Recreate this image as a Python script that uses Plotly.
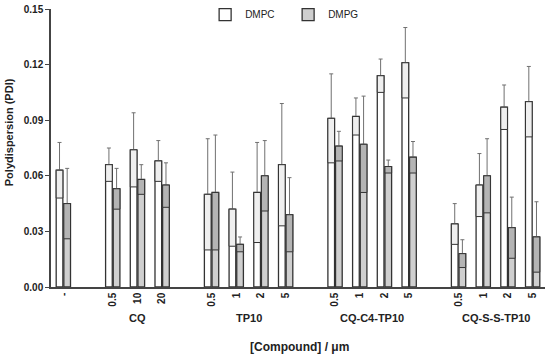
import plotly.graph_objects as go

# ---- data ----
tick_labels = ["-", "", "0.5", "10", "20", "", "0.5", "1", "2", "5", "",
               "0.5", "1", "2", "5", "", "0.5", "1", "2", "5"]
positions = [0, 2, 3, 4, 6, 7, 8, 9, 11, 12, 13, 14, 16, 17, 18, 19]
dmpc_vals = [0.063, 0.066, 0.074, 0.068, 0.050, 0.042, 0.051, 0.066,
             0.091, 0.092, 0.114, 0.121, 0.034, 0.055, 0.097, 0.100]
dmpc_err = [0.015, 0.009, 0.020, 0.011, 0.030, 0.020, 0.027, 0.033,
            0.024, 0.010, 0.009, 0.019, 0.011, 0.017, 0.012, 0.019]
dmpg_vals = [0.045, 0.053, 0.058, 0.055, 0.051, 0.023, 0.060, 0.039,
             0.076, 0.077, 0.065, 0.070, 0.018, 0.060, 0.032, 0.027]
dmpg_err = [0.019, 0.011, 0.008, 0.012, 0.031, 0.004, 0.019, 0.020,
            0.008, 0.026, 0.0035, 0.0085, 0.0075, 0.020, 0.0165, 0.019]
groups = ["CQ", "TP10", "CQ-C4-TP10", "CQ-S-S-TP10"]
group_centers = [3, 7.5, 12.5, 17.5]

FONT = "Liberation Sans, Arial, sans-serif"
W = 0.27
OFF_C = -0.29
OFF_G = 0.02
LINE = "#333333"

fig = go.Figure()

def add_series(name, vals, errs, offset, fill, inner_fill):
    fig.add_trace(go.Bar(
        x=positions, y=vals, name=name, width=W, offset=offset,
        marker=dict(color=fill, line=dict(color=LINE, width=1.3)),
        error_y=dict(type="data", symmetric=False, array=errs,
                     arrayminus=[0] * len(errs), color="#707070",
                     thickness=1, width=2),
    ))
    fig.add_trace(go.Bar(
        x=positions, y=errs, base=[v - e for v, e in zip(vals, errs)],
        width=W, offset=offset, showlegend=False, hoverinfo="skip",
        marker=dict(color=inner_fill, line=dict(color=LINE, width=1)),
    ))

add_series("DMPC", dmpc_vals, dmpc_err, OFF_C, "white", "#efefef")
add_series("DMPG", dmpg_vals, dmpg_err, OFF_G, "#cfcfcf", "#b4b4b4")

for g, c in zip(groups, group_centers):
    fig.add_annotation(x=c, xref="x", y=-0.112, yref="paper", text=f"<b>{g}</b>",
                       xanchor="center", yanchor="middle",
                       showarrow=False, font=dict(family=FONT, size=11, color="#222"))

fig.add_annotation(x=0.504, xref="paper", y=-0.216, yref="paper",
                   text="<b>[Compound] / μm</b>", showarrow=False,
                   xanchor="center", yanchor="middle",
                   font=dict(family=FONT, size=12, color="#222"))
fig.add_annotation(x=-0.086, xref="paper", y=0.555, yref="paper",
                   text="<b>Polydispersion (PDI)</b>", showarrow=False, textangle=-90,
                   xanchor="center", yanchor="middle",
                   font=dict(family=FONT, size=11, color="#222"))

fig.update_layout(
    width=550, height=359,
    margin=dict(l=51, r=5, t=9, b=72, autoexpand=False),
    paper_bgcolor="white", plot_bgcolor="white",
    barmode="overlay",
    showlegend=True,
    legend=dict(orientation="h", x=0.312, y=0.98, xanchor="left", yanchor="middle",
                font=dict(family=FONT, size=10, color="#222"),
                bgcolor="rgba(0,0,0,0)", itemwidth=30, entrywidth=38),
    xaxis=dict(range=[-0.5, 19.5], tickmode="array",
               tickvals=list(range(20)), ticktext=tick_labels,
               tickangle=-90, showline=True, linecolor="#444", linewidth=1.5,
               ticks="", showgrid=False, zeroline=False, automargin=False,
               tickfont=dict(family=FONT, size=10, color="#222", weight="bold")),
    yaxis=dict(range=[0, 0.15], dtick=0.03, tickformat=".2f",
               showline=True, linecolor="#444", linewidth=1.5,
               ticks="outside", ticklen=4, tickcolor="#444",
               showgrid=False, zeroline=False, automargin=False,
               tickfont=dict(family=FONT, size=10, color="#222", weight="bold")),
)

fig.write_html("out.html", config={"displayModeBar": False},
               post_script="document.body.style.margin='0';")
